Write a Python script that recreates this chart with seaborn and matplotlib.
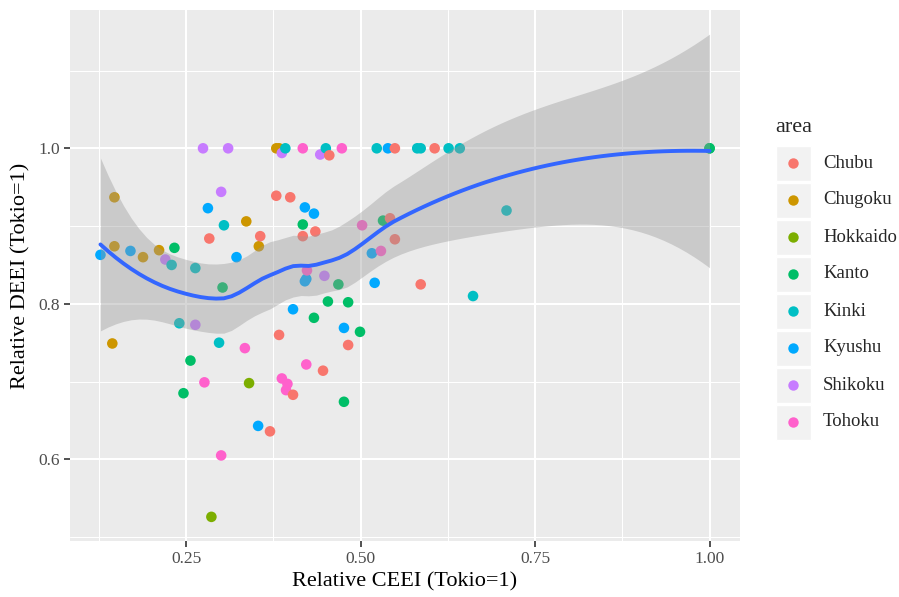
import numpy as np
import pandas as pd
import seaborn as sns
import matplotlib
matplotlib.use("Agg")
import matplotlib.pyplot as plt
from matplotlib.patches import Rectangle
from matplotlib.lines import Line2D

# Relative CEEI / DEEI of each municipality, grouped by area
ceei = [0.127, 0.147, 0.147, 0.144, 0.170, 0.188, 0.211, 0.220, 0.229, 0.233,
        0.240, 0.246, 0.256, 0.263, 0.263, 0.274, 0.276, 0.281, 0.283, 0.286,
        0.297, 0.300, 0.300, 0.302, 0.304, 0.310, 0.322, 0.334, 0.336, 0.340,
        0.353, 0.354, 0.356, 0.370, 0.379, 0.379, 0.383, 0.383, 0.387, 0.395,
        0.393, 0.387, 0.392, 0.399, 0.403, 0.403, 0.417, 0.417, 0.417, 0.420,
        0.422, 0.420, 0.422, 0.423, 0.433, 0.433, 0.435, 0.442, 0.446, 0.448,
        0.450, 0.453, 0.455, 0.468, 0.473, 0.476, 0.476, 0.482, 0.482, 0.499,
        0.502, 0.516, 0.520, 0.523, 0.529, 0.532, 0.539, 0.542, 0.549, 0.549,
        0.581, 0.586, 0.586, 0.606, 0.626, 0.642, 0.661, 0.709, 1.000, 1.000]
deei = [0.863, 0.937, 0.874, 0.749, 0.868, 0.860, 0.869, 0.857, 0.850, 0.872,
        0.775, 0.685, 0.727, 0.846, 0.773, 1.000, 0.699, 0.923, 0.884, 0.526,
        0.750, 0.944, 0.605, 0.821, 0.901, 1.000, 0.860, 0.743, 0.906, 0.698,
        0.643, 0.874, 0.887, 0.636, 0.939, 1.000, 1.000, 0.760, 0.704, 0.697,
        0.689, 0.994, 1.000, 0.937, 0.793, 0.683, 1.000, 0.902, 0.887, 0.924,
        0.832, 0.829, 0.722, 0.843, 0.916, 0.782, 0.893, 0.992, 0.714, 0.836,
        1.000, 0.803, 0.991, 0.825, 1.000, 0.769, 0.674, 0.802, 0.747, 0.764,
        0.901, 0.865, 0.827, 1.000, 0.868, 0.907, 1.000, 0.910, 1.000, 0.883,
        1.000, 1.000, 0.825, 1.000, 1.000, 1.000, 0.810, 0.920, 1.000, 1.000]
area = ["Kyushu", "Chugoku", "Chugoku", "Chugoku", "Kyushu", "Chugoku", "Chugoku", "Shikoku", "Kinki", "Kanto",
        "Kinki", "Kanto", "Kanto", "Kinki", "Shikoku", "Shikoku", "Tohoku", "Kyushu", "Chubu", "Hokkaido",
        "Kinki", "Shikoku", "Tohoku", "Kanto", "Kinki", "Shikoku", "Kyushu", "Tohoku", "Chugoku", "Hokkaido",
        "Kyushu", "Chugoku", "Chubu", "Chubu", "Chubu", "Chugoku", "Chugoku", "Chubu", "Tohoku", "Tohoku",
        "Tohoku", "Shikoku", "Kinki", "Chubu", "Kyushu", "Chubu", "Tohoku", "Kanto", "Chubu", "Kyushu",
        "Kyushu", "Kyushu", "Tohoku", "Tohoku", "Kyushu", "Kanto", "Chubu", "Shikoku", "Chubu", "Shikoku",
        "Kinki", "Kanto", "Chubu", "Kanto", "Tohoku", "Kyushu", "Kanto", "Kanto", "Chubu", "Kanto",
        "Tohoku", "Kyushu", "Kyushu", "Kinki", "Tohoku", "Kanto", "Kyushu", "Chubu", "Chubu", "Chubu",
        "Kinki", "Kinki", "Chubu", "Chubu", "Kinki", "Kinki", "Kinki", "Kinki", "Kanto", "Kanto"]

areas = ["Chubu", "Chugoku", "Hokkaido", "Kanto", "Kinki", "Kyushu", "Shikoku", "Tohoku"]
hue_colors = ["#F8766D", "#CD9600", "#7CAE00", "#00BE67", "#00BFC4", "#00A9FF", "#C77CFF", "#FF61CC"]
x_ticks = [0.25, 0.50, 0.75, 1.00]
x_labels = ["0.25", "0.50", "0.75", "1.00"]
y_ticks = [0.6, 0.8, 1.0]
y_labels = ["0.6", "0.8", "1.0"]

df = pd.DataFrame({"ceei": ceei, "deei": deei, "area": area})
palette = dict(zip(areas, hue_colors))


def loess_fit(x, y, grid, span=0.75, cell=0.2):
    """Local quadratic loess evaluated on kd-tree vertices and blended with
    cubic Hermite interpolation; returns fit and pointwise 95% band."""
    x = np.asarray(x, float)
    y = np.asarray(y, float)
    n = len(x)
    q = int(np.floor(n * span))

    def local_rows(x0):
        d = np.abs(x - x0)
        h = max(np.sort(d)[q - 1], 1e-12)
        u = np.clip(d / h, 0, 1)
        w = (1 - u ** 3) ** 3
        X = np.column_stack([np.ones(n), x - x0, (x - x0) ** 2])
        XtW = X.T * w
        coef = np.linalg.solve(XtW @ X, XtW)
        return coef[0], coef[1]          # value row, slope row

    # kd-tree vertices
    xs = np.sort(x)
    margin = 0.005 * (xs[-1] - xs[0])
    verts = {xs[0] - margin, xs[-1] + margin}
    fc = int(np.floor(n * span * cell))

    def split(pts):
        if len(pts) <= fc:
            return
        m = len(pts) // 2
        v = pts[m - 1] if len(pts) % 2 else 0.5 * (pts[m - 1] + pts[m])
        if v <= pts[0] or v >= pts[-1]:
            return
        verts.add(v)
        split(pts[pts <= v])
        split(pts[pts > v])

    split(xs)
    verts = np.array(sorted(verts))
    vrows = [local_rows(v) for v in verts]

    def interp_rows(pts):
        out = []
        for p in pts:
            k = int(np.clip(np.searchsorted(verts, p) - 1, 0, len(verts) - 2))
            v0, v1 = verts[k], verts[k + 1]
            hh = v1 - v0
            t = (p - v0) / hh
            h00 = 2 * t ** 3 - 3 * t ** 2 + 1
            h10 = t ** 3 - 2 * t ** 2 + t
            h01 = -2 * t ** 3 + 3 * t ** 2
            h11 = t ** 3 - t ** 2
            out.append(h00 * vrows[k][0] + h10 * hh * vrows[k][1]
                       + h01 * vrows[k + 1][0] + h11 * hh * vrows[k + 1][1])
        return np.array(out)

    L = interp_rows(x)
    resid = y - L @ y
    IL = np.eye(n) - L
    M = IL.T @ IL
    delta1 = np.trace(M)
    delta2 = np.trace(M @ M)
    sigma = np.sqrt(np.sum(resid ** 2) / delta1)
    dof = delta1 ** 2 / delta2

    rows = interp_rows(grid)
    fit = rows @ y
    se = sigma * np.sqrt(np.sum(rows ** 2, axis=1))
    z = 1.959964
    tq = z + (z ** 3 + z) / (4 * dof) + (5 * z ** 5 + 16 * z ** 3 + 3 * z) / (96 * dof ** 2)
    return fit, fit - tq * se, fit + tq * se


grid = np.linspace(min(ceei), max(ceei), 80)
fit, lo, hi = loess_fit(ceei, deei, grid)

sns.set_theme(style="darkgrid")
plt.rcParams["font.family"] = ["Liberation Serif", "DejaVu Serif"]

fig = plt.figure(figsize=(8.99, 5.97), dpi=100)
ax = fig.add_axes([70 / 899, 1 - 541 / 597, 670 / 899, 531 / 597])
ax.set_facecolor("#EBEBEB")

sns.scatterplot(data=df, x="ceei", y="deei", hue="area", palette=palette,
                hue_order=areas, s=58, linewidth=0, alpha=1, legend=False,
                ax=ax, zorder=3)
ax.fill_between(grid, lo, hi, color="#999999", alpha=0.4, linewidth=0, zorder=4)
sns.lineplot(x=grid, y=fit, color="#3366FF", linewidth=2.8, ax=ax, zorder=5,
             estimator=None, sort=False)

xr = max(ceei) - min(ceei)
ax.set_xlim(min(ceei) - 0.05 * xr, max(ceei) + 0.05 * xr)
ymin = min(min(deei), lo.min())
ymax = max(max(deei), hi.max())
yr = ymax - ymin
ax.set_ylim(ymin - 0.05 * yr, ymax + 0.05 * yr)

ax.set_xticks(x_ticks)
ax.set_xticklabels(x_labels)
ax.set_yticks(y_ticks)
ax.set_yticklabels(y_labels)
ax.set_xticks([0.125, 0.375, 0.625, 0.875], minor=True)
ax.set_yticks([0.5, 0.7, 0.9, 1.1], minor=True)
ax.grid(which="major", color="white", linewidth=1.5)
ax.grid(which="minor", color="white", linewidth=0.75)
ax.set_axisbelow(True)
for s in ax.spines.values():
    s.set_visible(False)
ax.tick_params(which="major", length=4, width=1.2, color="#333333",
               labelcolor="#4D4D4D", labelsize=12.5, pad=3)
ax.tick_params(which="minor", length=0)
ax.tick_params(axis="both", which="major", bottom=True, left=True)

ax.set_xlabel("Relative CEEI (Tokio=1)", fontsize=16, color="black", labelpad=4)
ax.set_ylabel("Relative DEEI (Tokio=1)", fontsize=16, color="black", labelpad=6)

# legend
W, H = 899, 597
fig.text(775 / W, 1 - 127 / H, "area", fontsize=16, va="center", ha="left")
for i, (name, col) in enumerate(zip(areas, hue_colors)):
    cy = 163 + 37 * i
    fig.add_artist(Rectangle((776 / W, 1 - (cy + 17.5) / H), 35 / W, 35 / H,
                             transform=fig.transFigure, facecolor="#F2F2F2",
                             edgecolor="white", linewidth=1))
    fig.add_artist(Line2D([793 / W], [1 - cy / H], marker="o", markersize=7.5,
                          markerfacecolor=col, markeredgewidth=0,
                          transform=fig.transFigure))
    fig.text(823 / W, 1 - cy / H, name, fontsize=13.5, va="center", ha="left")

fig.savefig("out.png", dpi=100)
